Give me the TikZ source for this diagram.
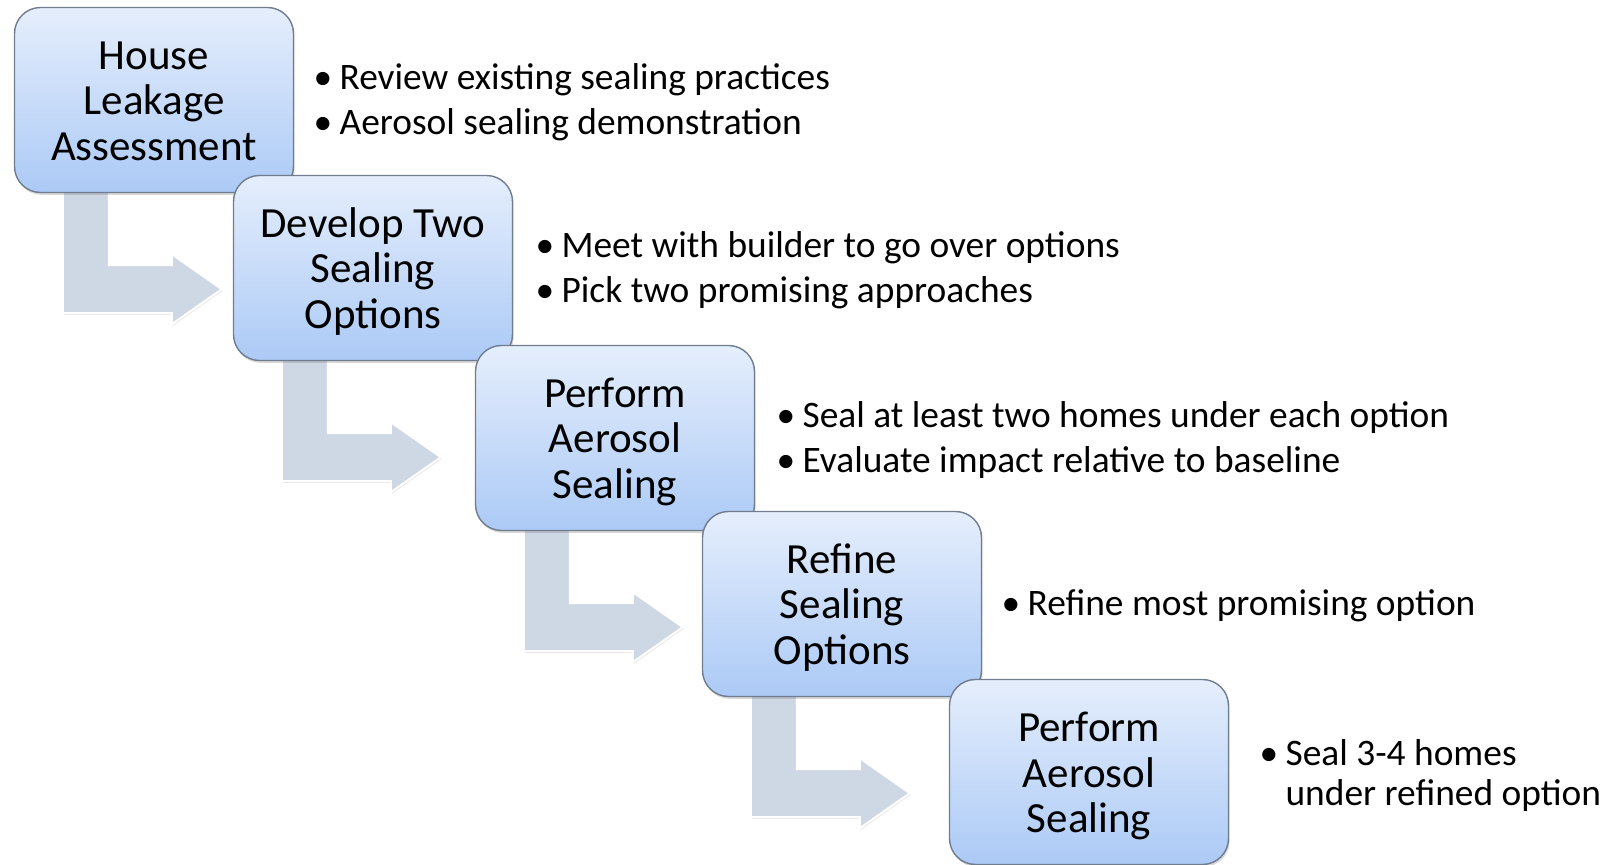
\documentclass[tikz,border=0pt]{standalone}
\usepackage{fontspec}
\setmainfont{Carlito}
\usepackage{xcolor}
\usepackage{tikz}
\usetikzlibrary{positioning, shadows, backgrounds}

\definecolor{boxtop}{HTML}{E5EEFC}
\definecolor{boxbottom}{HTML}{ACCAF6}
\definecolor{boxline}{HTML}{6F7D8F}
\definecolor{arrowfill}{HTML}{CED7E4}

\newcommand{\itemdot}{\makebox[13pt][l]{\textbullet}}
% three centred lines with fixed top and bottom struts
\newcommand{\stagelines}[3]{\rule{0pt}{20pt}#1\\#2\\#3\rule[-5pt]{0pt}{0pt}}

\begin{document}
\begin{tikzpicture}[
            x=0.5pt, y=-0.5pt,
            stage/.style={rectangle, rounded corners=13pt, draw=boxline, line width=0.7pt,
                top color=boxtop, bottom color=boxbottom,
                minimum width=139.5pt, minimum height=92.5pt, inner sep=0pt, align=center,
                font=\fontsize{21.5}{22.8}\selectfont,
                drop shadow={shadow xshift=0.6pt, shadow yshift=-1.2pt, opacity=0.3}},
            items/.style={anchor=west, align=left, inner sep=0pt,
                font=\fontsize{18.7}{20}\selectfont},
            bent/.style={fill=arrowfill, draw=white, line width=1pt,
                drop shadow={shadow xshift=0.5pt, shadow yshift=-0.8pt, opacity=0.2}}
        ]

        \useasboundingbox (0,0) rectangle (1612,865);

        % Stages (manual layout, stepping down to the right)
        \node[stage] (h1) at (154, 100) {\stagelines{House}{Leakage}{Assessment}};
        \node[stage] (h2) at (373, 268) {\stagelines{Develop Two}{Sealing}{Options}};
        \node[stage] (h3) at (615, 438) {\stagelines{Perform}{Aerosol}{Sealing}};
        \node[stage] (h4) at (842, 604) {\stagelines{Refine}{Sealing}{Options}};
        \node[stage] (h5) at (1089, 772) {\stagelines{Perform}{Aerosol}{Sealing}};

        % Bullet lists
        \node[items, right=9.5pt of h1, yshift=-1pt] (t1) {\itemdot Review existing sealing practices\\[2.5pt]
            \itemdot Aerosol sealing demonstration};
        \node[items, right=11pt of h2, yshift=-1pt] (t2) {\itemdot Meet with builder to go over options\\[2.5pt]
            \itemdot Pick two promising approaches};
        \node[items, right=10.5pt of h3, yshift=-1pt] (t3) {\itemdot Seal at least two homes under each option\\[2.5pt]
            \itemdot Evaluate impact relative to baseline};
        \node[items, right=9.5pt of h4, yshift=-1pt] (t4) {\itemdot Refine most promising option};
        \node[items, right=15pt of h5, yshift=-2pt] (t5) {\itemdot Seal 3-4 homes\\
            \hphantom{\itemdot}under refined option};

        % Bent arrows behind the stages
        \begin{scope}[on background layer]
            \foreach \s in {h1, h2, h3, h4} {
                \draw[bent, shift={(\s.south west)}]
                    (49,-22) -- (95,-22) -- (95,72) -- (158,72) -- (158,61)
                    -- (208,96) -- (158,131) -- (158,120) -- (49,120) -- cycle;
            }
        \end{scope}

    \end{tikzpicture}
\end{document}
